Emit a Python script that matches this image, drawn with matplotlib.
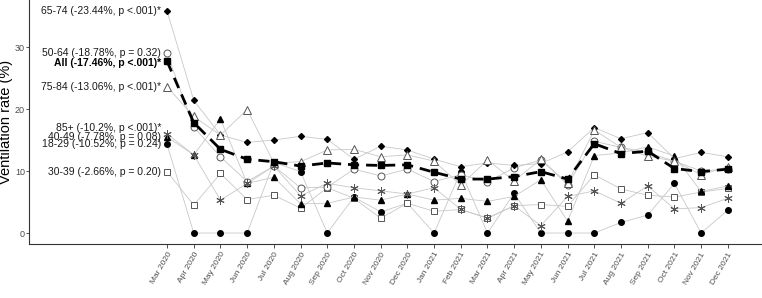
import matplotlib
matplotlib.use('Agg')
import matplotlib.pyplot as plt
import numpy as np

plt.rcParams['font.family'] = ['Liberation Sans', 'DejaVu Sans']

months = ['Mar 2020', 'Apr 2020', 'May 2020', 'Jun 2020', 'Jul 2020', 'Aug 2020',
          'Sep 2020', 'Oct 2020', 'Nov 2020', 'Dec 2020', 'Jan 2021', 'Feb 2021',
          'Mar 2021', 'Apr 2021', 'May 2021', 'Jun 2021', 'Jul 2021', 'Aug 2021',
          'Sep 2021', 'Oct 2021', 'Nov 2021', 'Dec 2021']

# ventilation rate (%) per age group
age_18_29 = [14.3, 0, 0, 0, 11.4, 9.9, 0, 5.8, 3.4, 4.8, 0, 9.9,
             0, 6.4, 0, 0, 0, 1.7, 2.9, 8.0, 0, 3.7]
age_30_39 = [9.9, 4.5, 9.6, 5.4, 6.1, 4.0, 7.3, 5.6, 2.4, 4.8, 3.5, 3.8,
             2.4, 4.4, 4.6, 4.3, 9.4, 7.1, 6.1, 5.8, 6.6, 7.2]
age_40_49 = [15.5, 12.6, 18.4, 8.0, 9.0, 4.7, 4.8, 5.8, 5.3, 6.3, 5.3, 5.6,
             5.1, 5.9, 8.6, 1.9, 12.5, 12.9, 13.9, 12.4, 6.7, 7.6]
age_50_64 = [29.0, 17.1, 12.3, 8.3, 10.8, 7.3, 7.4, 10.3, 9.2, 10.3, 8.3, 9.4,
             8.3, 10.5, 11.8, 7.8, 14.8, 13.8, 13.0, 11.6, 10.0, 10.3]
age_65_74 = [35.8, 21.4, 15.8, 14.6, 15.0, 15.6, 15.1, 11.9, 14.0, 13.4, 11.9, 10.7,
             11.3, 10.9, 11.2, 13.1, 17.0, 15.2, 16.2, 12.0, 13.0, 12.3]
age_75_84 = [23.6, 18.8, 15.8, 19.9, 11.3, 11.5, 13.4, 13.5, 12.3, 12.6, 11.6, 7.7,
             11.8, 8.4, 11.9, 8.0, 16.6, 13.8, 12.4, 11.6, 9.4, 10.7]
age_85 = [16.0, 12.6, 5.3, 8.0, 10.8, 6.0, 8.0, 7.3, 6.8, 6.3, 7.3, 3.8,
          2.4, 4.4, 1.2, 5.9, 6.8, 4.8, 7.6, 3.9, 4.1, 5.6]
all_ages = [27.7, 17.8, 13.5, 11.9, 11.5, 10.8, 11.3, 11.0, 10.9, 11.0, 9.8, 8.7,
            8.7, 9.1, 9.9, 8.7, 14.4, 12.8, 13.2, 10.4, 9.9, 10.3]

labels = {
    '65-74': '65-74 (-23.44%, p <.001)*',
    '50-64': '50-64 (-18.78%, p = 0.32)',
    'All': 'All (-17.46%, p <.001)*',
    '75-84': '75-84 (-13.06%, p <.001)*',
    '85+': '85+ (-10.2%, p <.001)*',
    '40-49': '40-49 (-7.78%, p = 0.08)',
    '18-29': '18-29 (-10.52%, p = 0.24)',
    '30-39': '30-39 (-2.66%, p = 0.20)',
}

grey = '#555555'
series = [
    ('18-29', age_18_29, dict(marker='o', ms=4, mfc='k', mec='k'), 0.0),
    ('30-39', age_30_39, dict(marker='s', ms=5, mfc='white', mec=grey, mew=0.7), 0.0),
    ('40-49', age_40_49, dict(marker='^', ms=5, mfc='k', mec='k'), 0.0),
    ('50-64', age_50_64, dict(marker='o', ms=5, mfc='white', mec=grey, mew=0.7), 0.0),
    ('65-74', age_65_74, dict(marker='D', ms=3, mfc='k', mec='k'), 0.0),
    ('75-84', age_75_84, dict(marker='^', ms=6, mfc='white', mec=grey, mew=0.7), 0.0),
    ('85+', age_85, dict(marker=(6, 2, 0), ms=6, mfc=grey, mec=grey, mew=0.7), 0.9),
]

fig = plt.figure(figsize=(7.62, 2.98), dpi=100)
ax = fig.add_axes([29 / 762, 54 / 298, 733 / 762, 244 / 298])

x = np.arange(len(months))
for name, vals, style, nudge in series:
    ax.plot(x, vals, color='#c8c8c8', lw=0.6, **style, zorder=2)
    ax.text(x[0] - 0.22, vals[0] + nudge, labels[name], ha='right', va='center',
            fontsize=7.5, color='#1a1a1a')

ax.plot(x, all_ages, color='k', lw=2, ls=(0, (4, 2.5)), marker='s', ms=5,
        mfc='k', mec='k', zorder=4)
ax.text(x[0] - 0.22, all_ages[0] - 0.3, labels['All'], ha='right', va='center',
        fontsize=7.5, fontweight='bold', color='k')

ax.set_xlim(-5.17, 22.28)
ax.set_ylim(-1.77, 37.58)
ax.set_xticks(x)
ax.set_xticklabels(months, rotation=60, ha='right', rotation_mode='anchor',
                   fontsize=6, color='#4d4d4d')
ax.set_yticks([0, 10, 20, 30])
ax.tick_params(axis='y', labelsize=6.5, labelcolor='#4d4d4d', length=2,
               color='#333333', width=0.6, pad=1)
ax.tick_params(axis='x', length=3, color='#333333', width=0.6, pad=2)
ax.set_ylabel('Ventilation rate (%)', fontsize=10.5)
ax.yaxis.set_label_coords(-0.0215, 0.5)

for s in ['top', 'right']:
    ax.spines[s].set_visible(False)
for s in ['left', 'bottom']:
    ax.spines[s].set_color('#333333')
    ax.spines[s].set_linewidth(0.8)

fig.savefig('out.png', dpi=100)
